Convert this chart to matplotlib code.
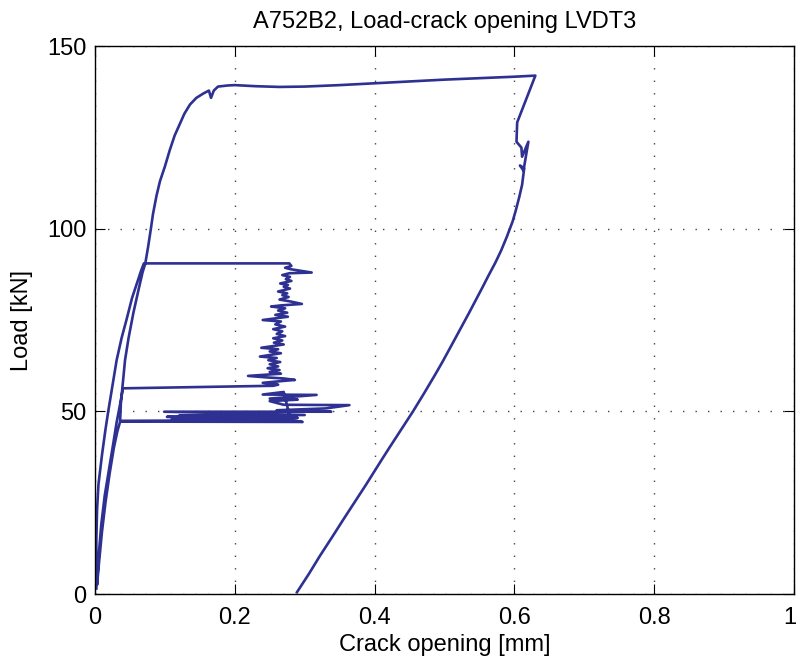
import numpy as np
import matplotlib
matplotlib.use('Agg')
from matplotlib import pyplot as plt
from matplotlib import transforms

plt.rcParams['font.family'] = ['Liberation Sans', 'DejaVu Sans']

# first loading line up to the 90 kN plateau
load1_x = [0.002, 0.002, 0.002, 0.003, 0.005, 0.010, 0.015, 0.019, 0.025, 0.031, 0.038, 0.045, 0.053, 0.060, 0.066, 0.070]
load1_y = [1.5, 8.0, 15.0, 23.0, 30.0, 38.0, 45.0, 50.0, 57.0, 64.0, 70.0, 75.0, 81.0, 85.0, 88.5, 90.5]

# crack jump and noisy descent from 90 kN
jump1_x = [0.278, 0.281, 0.272, 0.280, 0.310, 0.278, 0.268, 0.279, 0.273, 0.281, 0.265, 0.276,
           0.270, 0.279, 0.262, 0.275, 0.268, 0.277, 0.264, 0.279, 0.296, 0.266, 0.252, 0.272,
           0.262, 0.275, 0.258, 0.276, 0.240, 0.266, 0.258, 0.272, 0.255, 0.268, 0.260, 0.272,
           0.255, 0.268, 0.256, 0.270, 0.238, 0.262, 0.250, 0.266, 0.236, 0.260, 0.248, 0.265,
           0.250, 0.262, 0.247, 0.264, 0.250, 0.266, 0.219, 0.245, 0.270, 0.286, 0.262, 0.240,
           0.262, 0.255, 0.040]
jump1_y = [90.5, 89.8, 89.3, 88.9, 88.0, 87.8, 87.3, 86.8, 86.2, 85.7, 85.0, 84.6,
           84.1, 83.6, 82.8, 82.3, 81.8, 81.3, 80.6, 80.1, 79.4, 79.0, 78.7, 78.2,
           77.6, 77.0, 76.4, 75.9, 75.0, 74.6, 73.8, 73.2, 72.5, 71.9, 71.2, 70.6,
           70.0, 69.4, 68.8, 68.3, 67.4, 67.0, 66.4, 65.9, 65.0, 64.6, 64.0, 63.5,
           62.9, 62.3, 61.8, 61.3, 60.8, 60.3, 59.7, 59.3, 59.0, 58.6, 58.2, 57.8,
           57.3, 57.0, 56.3]

# unloading back to origin and reloading
unload2_x = [0.040, 0.036, 0.031, 0.026, 0.020, 0.014, 0.009, 0.006, 0.004, 0.003]
unload2_y = [56.3, 52.0, 47.0, 41.0, 34.0, 27.0, 19.0, 12.0, 6.0, 2.5]
reload3_x = [0.003, 0.006, 0.010, 0.015, 0.021, 0.027, 0.032, 0.036]
reload3_y = [2.5, 9.0, 17.0, 25.0, 33.0, 40.0, 44.5, 47.2]

# second noisy cluster around 47-55 kN
jump2_x = [0.297, 0.270, 0.110, 0.290, 0.103, 0.280, 0.120, 0.300, 0.099, 0.338, 0.260,
           0.330, 0.364, 0.270, 0.250, 0.290, 0.250, 0.317, 0.240, 0.270, 0.280, 0.036]
jump2_y = [47.1, 47.8, 47.9, 48.2, 48.5, 48.6, 48.8, 49.0, 49.9, 49.9, 50.3,
           50.8, 51.7, 51.8, 52.8, 53.2, 53.5, 54.5, 54.6, 55.3, 47.6, 47.4]

# final loading to peak
load4_x = [0.036, 0.037, 0.040, 0.043, 0.048, 0.055, 0.062, 0.068, 0.072, 0.076, 0.080,
           0.083, 0.088, 0.093, 0.100, 0.107, 0.114, 0.121, 0.128, 0.136, 0.145, 0.155,
           0.163, 0.166, 0.170, 0.176, 0.190, 0.200, 0.230, 0.264, 0.300, 0.350, 0.400,
           0.450, 0.500, 0.550, 0.600, 0.630]
load4_y = [47.4, 52.0, 58.0, 64.0, 70.0, 77.0, 83.0, 88.0, 90.5, 95.0, 100.0,
           104.0, 109.0, 113.0, 117.0, 121.5, 125.5, 128.5, 131.5, 134.0, 135.8, 137.0,
           137.8, 135.8, 137.8, 138.9, 139.2, 139.3, 139.0, 138.8, 138.9, 139.3, 139.8,
           140.3, 140.8, 141.2, 141.6, 141.9]

# post-peak drop and unloading
unload5_x = [0.630, 0.604, 0.603, 0.610, 0.611, 0.620, 0.613, 0.608, 0.614, 0.611, 0.607,
             0.602, 0.5975, 0.5935, 0.589, 0.581, 0.5725, 0.5625, 0.5545, 0.5435, 0.535, 0.524,
             0.5155, 0.507, 0.497, 0.4865, 0.471, 0.455, 0.438, 0.421, 0.410, 0.388, 0.371,
             0.355, 0.339, 0.322, 0.306, 0.289]
unload5_y = [141.9, 129.1, 123.8, 122.2, 119.7, 123.8, 115.9, 117.3, 116.5, 112.0, 108.7,
             105.0, 102.0, 100.0, 97.7, 94.0, 90.6, 87.0, 84.0, 80.0, 76.9, 73.0,
             70.0, 67.0, 63.5, 60.0, 55.0, 50.0, 45.0, 40.0, 36.7, 30.0, 25.0,
             20.3, 15.5, 10.5, 5.5, 0.5]

crack = np.concatenate([load1_x, jump1_x, unload2_x, reload3_x, jump2_x, load4_x, unload5_x])
load = np.concatenate([load1_y, jump1_y, unload2_y, reload3_y, jump2_y, load4_y, unload5_y])

fig = plt.figure(figsize=(7.96, 6.66), dpi=100)
ax = fig.add_axes([0.1193, 0.1081, 0.8782, 0.8228])
ax.plot(crack, load, color='#2e3192', lw=1.9, solid_joinstyle='round')

ax.set_xlim(0, 1)
ax.set_ylim(0, 150)
ax.set_xticks([0, 0.2, 0.4, 0.6, 0.8, 1])
ax.set_xticklabels(['0', '0.2', '0.4', '0.6', '0.8', '1'])
ax.set_yticks([0, 50, 100, 150])
ax.tick_params(direction='in', length=7, width=0.8, labelsize=17, top=True, right=True)
ax.tick_params(axis='x', pad=9)
ax.tick_params(axis='y', pad=6)
ax.grid(True, linestyle=(0, (1, 8)), color='#444444', lw=1.0)
for s in ax.spines.values():
    s.set_linewidth(1.0)
ax.set_xlabel('Crack opening [mm]', fontsize=17, labelpad=4)
ax.set_ylabel('Load [kN]', fontsize=17, labelpad=10)
ax.set_title('A752B2, Load-crack opening LVDT3', fontsize=17, pad=13)

# keep the last x label inside the figure
last = ax.get_xticklabels()[-1]
last.set_transform(last.get_transform() + transforms.ScaledTranslation(-4 / 100, 0, fig.dpi_scale_trans))

fig.savefig('out.png', dpi=100)
